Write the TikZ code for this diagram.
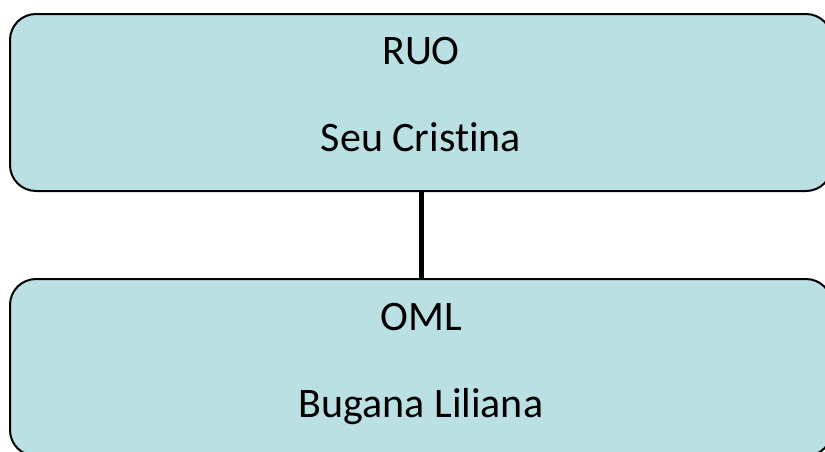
\documentclass[tikz,border=0pt]{standalone}
\usepackage{fontspec}
\setmainfont{Carlito}[Ligatures={NoCommon,NoRequired,NoContextual}]
\definecolor{boxfill}{HTML}{BBE0E3}
\begin{document}
\begin{tikzpicture}[x=1pt,y=-1pt,
  orgbox/.style={draw=black, line width=2pt, fill=boxfill, rounded corners=26pt,
    minimum width=822pt, minimum height=177pt, inner sep=0pt, outer sep=0pt},
  lbl/.style={font=\fontsize{42}{50}\selectfont, anchor=base, inner sep=0pt},
  link/.style={line width=5pt}]
\useasboundingbox (0,0) rectangle (825,451);
\node[orgbox] (top) at (421,102.5) {};
\node[orgbox] (bot) at (421,367.5) {};
\node[lbl] (topA) at (421,64) {RUO};
\node[lbl] (topB) at (421,151) {Seu Cristina};
\node[lbl] (botA) at (421,330) {OML};
\node[lbl] (botB) at (421,417) {Bugana Liliana};
\draw[link] (top.south) -- (bot.north);
\end{tikzpicture}
\end{document}
